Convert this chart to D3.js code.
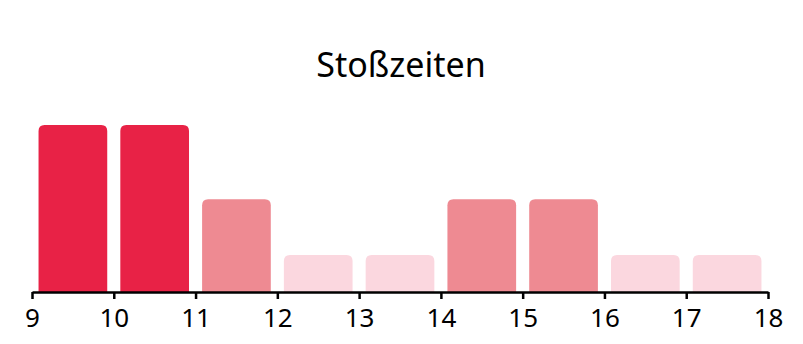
<!DOCTYPE html>
<html lang="de">
<head>
<meta charset="UTF-8">
<title>Stoßzeiten</title>
<script src="https://cdn.jsdelivr.net/npm/d3@7.8.5/dist/d3.min.js"></script>
<style>
    * { margin: 0; padding: 0; }
    body { background: #fff; font-family: 'Noto Sans', 'Open Sans', sans-serif; }
    svg { display: block; }
</style>
</head>
<body>
<div id="chart"></div>
<script>
// Stunden (Startzeit jedes Balkens) und Auslastung
const hours = [9, 10, 11, 12, 13, 14, 15, 16, 17];
const values = [9, 9, 5, 2, 2, 5, 5, 2, 2];
const tickHours = [9, 10, 11, 12, 13, 14, 15, 16, 17, 18];

const width = 803, height = 344;
const margin = { left: 32, right: 35, top: 125, bottom: 52 };

const svg = d3.select('#chart').append('svg')
    .attr('width', width)
    .attr('height', height);

const x = d3.scaleLinear()
    .domain([9, 18])
    .range([margin.left, width - margin.right]);

const y = d3.scaleLinear()
    .domain([0, 9])
    .range([height - margin.bottom, margin.top]);

// Farbe nach Auslastung
const color = d => d >= 8 ? '#e82246' : d >= 4 ? '#ee8a92' : '#fbd7df';

const pad = 0.08; // Abstand je Seite in Stunden
const r = 6;

function barPath(h, v) {
    const x0 = x(h + pad), x1 = x(h + 1 - pad);
    const y0 = y(0), y1 = y(v);
    return `M${x0},${y0}V${y1 + r}Q${x0},${y1} ${x0 + r},${y1}H${x1 - r}Q${x1},${y1} ${x1},${y1 + r}V${y0}Z`;
}

svg.append('g')
    .selectAll('path')
    .data(hours)
    .join('path')
    .attr('d', (h, i) => barPath(h, values[i]))
    .attr('fill', (h, i) => color(values[i]));

const axis = svg.append('g')
    .attr('transform', `translate(0,${y(0)})`)
    .call(d3.axisBottom(x).tickValues(tickHours).tickFormat(d3.format('d')).tickSize(7).tickPadding(10).tickSizeOuter(0));

axis.select('.domain').attr('stroke', '#000').attr('stroke-width', 2.5);
axis.selectAll('.tick line').attr('stroke', '#000').attr('stroke-width', 2.5);
axis.selectAll('.tick text')
    .attr('fill', '#000')
    .style('font-size', '26px')
    .style('font-family', "'Noto Sans', sans-serif");

svg.append('text')
    .attr('x', 401)
    .attr('y', 77)
    .attr('text-anchor', 'middle')
    .style('font-size', '34px')
    .style('fill', '#000')
    .text('Stoßzeiten');
</script>
</body>
</html>
